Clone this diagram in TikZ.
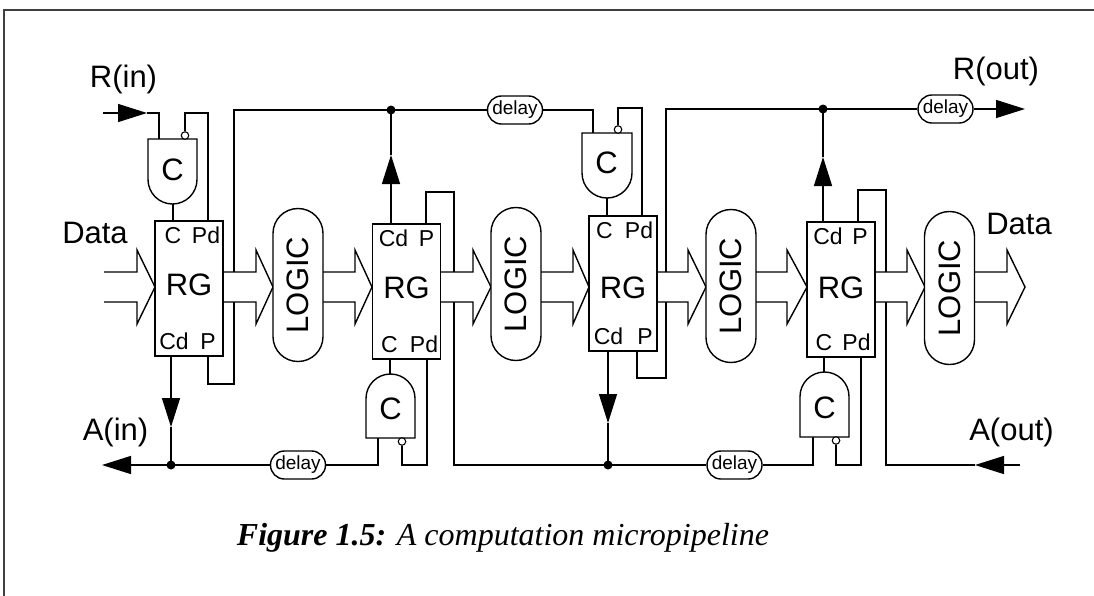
\documentclass[tikz,border=0pt]{standalone}
\usepackage{fontspec}
\setmainfont{Liberation Sans}
\newfontfamily\capfont{Liberation Serif}
\usetikzlibrary{arrows.meta,calc}
\newcommand\mydataarrow[3]{\path[dataarrow] (#1,272) -- (#2,272) -- (#2,250) -- (#3,287) -- (#2,324) -- (#2,302) -- (#1,302);}
\begin{document}
\begin{tikzpicture}[x=1pt,y=-1pt,
  wire/.style={line width=1.4pt, line cap=butt, line join=miter},
  headarrow/.style={-{Triangle[length=29pt,width=18pt]}},
  rgbox/.style={draw, line width=1.4pt, fill=white, minimum width=68pt, minimum height=135pt, inner sep=0pt},
  logicbox/.style={draw, line width=1.4pt, fill=white, rounded corners=24.9pt, minimum width=50pt, minimum height=153pt, inner sep=0pt, font=\fontsize{31}{31}\selectfont},
  delaybox/.style={draw, line width=1.4pt, fill=white, rounded corners=13.9pt, minimum width=55pt, minimum height=28pt, inner sep=0pt, font=\fontsize{19}{19}\selectfont},
  gate/.style={draw, line width=1.4pt, fill=white},
  portlbl/.style={font=\fontsize{23}{23}\selectfont, inner sep=0pt, anchor=base},
  rglbl/.style={font=\fontsize{31}{31}\selectfont, inner sep=0pt},
  gatelbl/.style={font=\fontsize{31}{31}\selectfont, inner sep=0pt},
  big/.style={font=\fontsize{31}{31}\selectfont, inner sep=0pt},
  junction/.style={circle, fill, inner sep=0pt, minimum size=9pt},
  bubble/.style={circle, draw, line width=1.1pt, fill=white, inner sep=0pt, minimum size=7.5pt},
  dataarrow/.style={draw, line width=1.4pt, fill=white, line join=miter},
]
\useasboundingbox (0,0) rectangle (1094,595);
% frame
\draw[line width=2pt, black!75] (4,600) -- (4,10) -- (1100,10);

% ---------- coordinates ----------
\coordinate (rin) at (103,113);
\coordinate (rinTip) at (147,113);
\coordinate (g1a) at (159,139);
\coordinate (g1o) at (173,204);
\coordinate (rg1c) at (173,221);
\coordinate (rg1pd) at (208,221);
\coordinate (rg1cd) at (171,356);
\coordinate (rg1p) at (208,356);
\coordinate (cd1Tip) at (171,427);
\coordinate (ainEnd) at (102,465);

\coordinate (rg2cd) at (391,224);
\coordinate (rg2p) at (426,224);
\coordinate (cd2Tip) at (391,155);
\coordinate (rg2c) at (390,359);
\coordinate (rg2pd) at (427,359);
\coordinate (g2o) at (390,374);
\coordinate (g2a) at (378,438);

\coordinate (g3a) at (593,133);
\coordinate (g3o) at (607,198);
\coordinate (rg3c) at (607,216);
\coordinate (rg3pd) at (642,216);
\coordinate (rg3cd) at (608,351);
\coordinate (rg3p) at (637,351);
\coordinate (cd3Tip) at (608,423);
\coordinate (routEnd) at (1025,109);

\coordinate (rg4cd) at (823,222);
\coordinate (rg4p) at (858,222);
\coordinate (cd4Tip) at (823,157);
\coordinate (rg4c) at (824,357);
\coordinate (rg4pd) at (861,357);
\coordinate (g4o) at (824,372);
\coordinate (g4a) at (813,437);
\coordinate (aoutStart) at (1020,465);
\coordinate (aoutTip) at (975,465);

% ---------- delays ----------
\node[delaybox] (dtop1) at (515,110) {delay};
\node[delaybox] (dtop2) at (945.5,109) {delay};
\node[delaybox] (dbot1) at (298,465) {delay};
\node[delaybox] (dbot2) at (734.5,465) {delay};

% ---------- wires ----------
% stage 1
\draw[wire, headarrow] (rin) -- (rinTip);
\draw[wire] (rinTip) -| (g1a);
\draw[wire] (g1o) -- (rg1c);
\draw[wire, headarrow] (rg1cd) -- (cd1Tip);
\draw[wire] (cd1Tip) -- (171,465);
\draw[wire] (rg1p) -- (208,384) -- (234,384) -- (234,110) -- (dtop1.west);
\draw[wire] (dtop1.east) -- (593,110) -- (g3a);
\draw[wire] (g2a) -- (378,465) -- (dbot1.east);
\draw[wire, headarrow] (dbot1.west) -- (ainEnd);
% stage 2
\draw[wire, headarrow] (rg2cd) -- (cd2Tip);
\draw[wire] (cd2Tip) -- (391,110);
\draw[wire] (rg2p) -- (426,192) -- (454,192) -- (454,465) -- (dbot2.west);
\draw[wire] (dbot2.east) -- (813,465) -- (g4a);
\draw[wire] (g2o) -- (rg2c);
% stage 3
\draw[wire] (g3o) -- (rg3c);
\draw[wire, headarrow] (rg3cd) -- (cd3Tip);
\draw[wire] (cd3Tip) -- (608,465);
\draw[wire] (rg3p) -- (637,378) -- (666,378) -- (666,109) -- (dtop2.west);
\draw[wire, headarrow] (dtop2.east) -- (routEnd);
% stage 4
\draw[wire, headarrow] (rg4cd) -- (cd4Tip);
\draw[wire] (cd4Tip) -- (823,109);
\draw[wire] (rg4p) -- (858,190) -- (886,190) -- (886,465) -- (aoutTip);
\draw[wire, headarrow] (aoutStart) -- (aoutTip);
\draw[wire] (g4o) -- (rg4c);

% ---------- C gates ----------
\draw[gate] (148,139) -- (197,139) -- (197,179.5) arc[start angle=0, end angle=180, radius=24.5] -- cycle;
\draw[gate] (366,438) -- (366,398.5) arc[start angle=180, end angle=360, radius=24.5] -- (415,438) -- cycle;
\draw[gate] (582,133) -- (632,133) -- (632,173) arc[start angle=0, end angle=180, radius=25] -- cycle;
\draw[gate] (800,437) -- (800,396.5) arc[start angle=180, end angle=360, radius=24.5] -- (849,437) -- cycle;
\node[gatelbl] (c1) at (172.5,170) {C};
\node[gatelbl] (c2) at (390.5,409) {C};
\node[gatelbl] (c3) at (606.5,163) {C};
\node[gatelbl] (c4) at (824.5,408) {C};

\node[bubble] (b1) at (185,135.5) {};
\node[bubble] (b2) at (402,441.5) {};
\node[bubble] (b3) at (618,129.5) {};
\node[bubble] (b4) at (836,440.5) {};
\draw[wire] (b1.north) -- (185,113) -- (208,113) -- (rg1pd);
\draw[wire] (b2.south) -- (402,465) -- (427,465) -- (rg2pd);
\draw[wire] (b3.north) -- (618,108) -- (642,108) -- (rg3pd);
\draw[wire] (b4.south) -- (836,465) -- (861,465) -- (rg4pd);

% junctions
\node[junction] (j1) at (171,465) {};
\node[junction] (j2) at (391,110) {};
\node[junction] (j3) at (608,465) {};
\node[junction] (j4) at (823,109) {};

% ---------- data arrows ----------
\mydataarrow{104}{137}{155}
\mydataarrow{223}{256}{273}
\mydataarrow{323}{355}{372}
\mydataarrow{441}{473}{491}
\mydataarrow{541}{573}{589}
\mydataarrow{657}{688}{706}
\mydataarrow{756}{787}{807}
\mydataarrow{875}{907}{925}
\mydataarrow{974}{1007}{1025}

% ---------- registers ----------
\node[rgbox] (rg1) at (189,288.5) {};
\node[rgbox] (rg2) at (406.5,291.5) {};
\node[rgbox] (rg3) at (623,283.5) {};
\node[rgbox] (rg4) at (841,289.5) {};
\node[rglbl] (rg1t) at (189,285) {RG};
\node[rglbl] (rg2t) at (406.5,288) {RG};
\node[rglbl] (rg3t) at (623,287.5) {RG};
\node[rglbl] (rg4t) at (841,288) {RG};

\node[portlbl] (p1a) at (173,243) {C};
\node[portlbl] (p1b) at (206,243) {Pd};
\node[portlbl] (p1c) at (174,349) {Cd};
\node[portlbl] (p1d) at (208,349) {P};
\node[portlbl] (p2a) at (393.5,246) {Cd};
\node[portlbl] (p2b) at (426.5,246) {P};
\node[portlbl] (p2c) at (389.5,352) {C};
\node[portlbl] (p2d) at (424,352) {Pd};
\node[portlbl] (p3a) at (604.5,238) {C};
\node[portlbl] (p3b) at (639,238) {Pd};
\node[portlbl] (p3c) at (608.5,344) {Cd};
\node[portlbl] (p3d) at (645,344) {P};
\node[portlbl] (p4a) at (828,244) {Cd};
\node[portlbl] (p4b) at (860,244) {P};
\node[portlbl] (p4c) at (824,350) {C};
\node[portlbl] (p4d) at (856.5,350) {Pd};

% ---------- logic ----------
\node[logicbox] (lg1) at (298,285) {\rotatebox{90}{LOGIC}};
\node[logicbox] (lg2) at (516,284) {\rotatebox{90}{LOGIC}};
\node[logicbox] (lg3) at (731,286) {\rotatebox{90}{LOGIC}};
\node[logicbox] (lg4) at (949.5,288) {\rotatebox{90}{LOGIC}};

% ---------- labels ----------
\node[big] (rinlbl) at (123.5,79) {R(in)};
\node[big] (ainlbl) at (115.5,432) {A(in)};
\node[big] (datain) at (95,233) {Data};
\node[big] (routlbl) at (996,71) {R(out)};
\node[big] (dataout) at (1019,224) {Data};
\node[big] (aoutlbl) at (1011.5,432.5) {A(out)};

\node[anchor=base, inner sep=0pt, font=\capfont\fontsize{32}{32}\selectfont] (caption) at (503,545)
  {\textbf{\textit{Figure 1.5:}} \textit{A computation micropipeline}};
\end{tikzpicture}
\end{document}
